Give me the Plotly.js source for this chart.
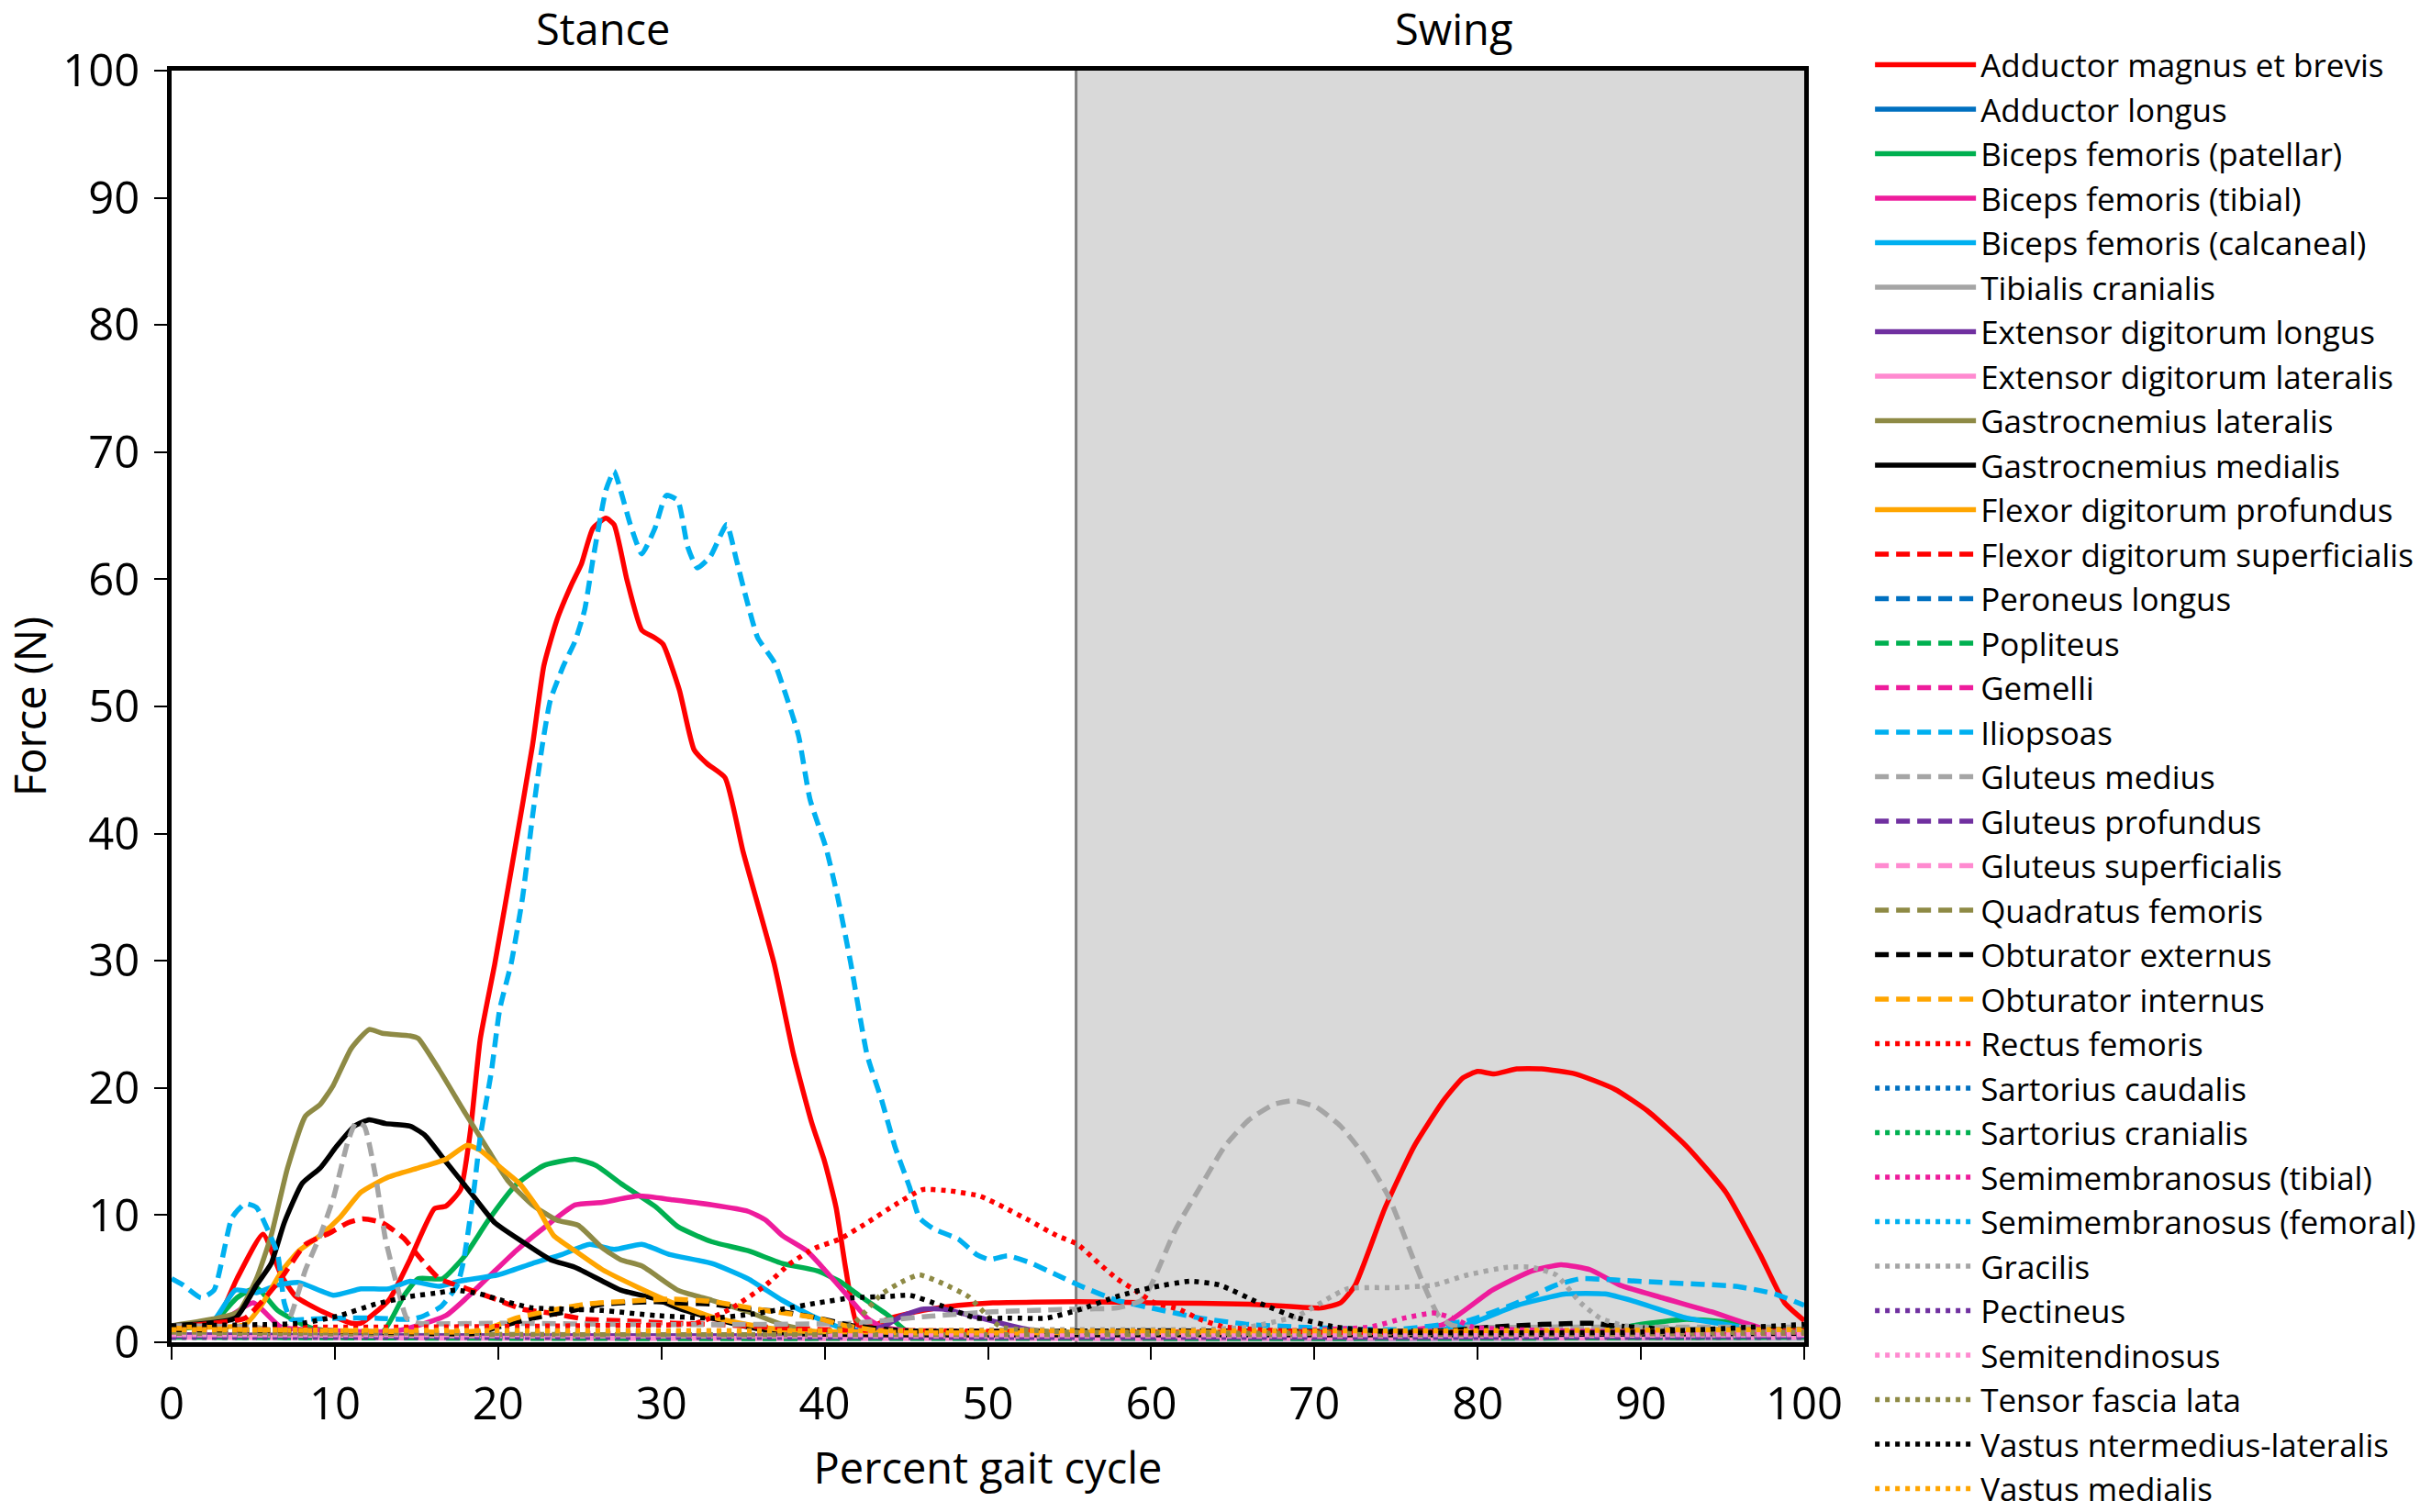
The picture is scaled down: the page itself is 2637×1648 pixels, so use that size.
<!DOCTYPE html>
<html>
<head>
<meta charset="utf-8">
<script src="https://cdn.plot.ly/plotly-3.0.1.min.js"></script>
<style>
  html, body { margin: 0; padding: 0; background: #fff; }
  #chart { width: 2637px; height: 1648px; }
</style>
</head>
<body>
<div id="chart"></div>
<script>
// values (percent gait cycle -> force in N)
baseX = [0, 25, 50, 75, 100]

adductorMagnusX = [0, 2.6, 4, 5.6, 6.7, 7.6, 9.1, 11, 11.6, 13.3, 14.6, 16.1, 16.8, 17.7, 18.3, 18.9, 19.8, 21.0, 22.1, 22.8, 23.6, 24.5, 25.1, 25.8, 26.6, 27.1, 27.9, 28.8, 29.6, 30.1, 31.1, 32.0, 32.8, 33.9, 35.0, 36.9, 38.1, 39.2, 40.0, 40.7, 41.3, 42.0, 43.0, 44, 46, 48.2, 50.3, 55.5, 60, 66, 70.4, 71.6, 72.5, 74.3, 76.1, 77.9, 79.1, 80, 81, 82.4, 83.9, 86, 88.4, 90.4, 92.8, 95.2, 97.3, 98.8, 100]
adductorMagnusY = [1.3, 1.4, 5, 8.5, 5.3, 3.6, 2.5, 1.5, 1.5, 3.3, 6.5, 10.5, 10.7, 12, 16.6, 23.8, 29.8, 38.6, 46.9, 53.2, 56.8, 59.6, 61.2, 64.0, 64.8, 64.3, 59.9, 56.0, 55.4, 54.9, 51.3, 46.6, 45.5, 44.4, 38.6, 29.8, 22.6, 17.3, 14.2, 10.6, 5.7, 1.4, 1.3, 1.9, 2.5, 2.9, 3.1, 3.2, 3.1, 3.0, 2.7, 3.1, 4.5, 10.5, 15.4, 19.0, 20.8, 21.3, 21.1, 21.5, 21.5, 21.1, 19.9, 18.2, 15.4, 11.8, 6.9, 3.1, 1.7]

adductorLongusY = [0.5, 0.4, 0.4, 0.3, 0.4]

bicepsPatellarX = [0, 2.5, 4, 5.2, 6.5, 8.6, 12.9, 14.2, 15.1, 16.6, 17.9, 19.4, 21.1, 22.8, 24.7, 26, 27.5, 29.7, 31, 33.1, 35.3, 37.4, 39.6, 40.9, 42.2, 43.9, 45, 47, 60, 80, 87, 89.9, 92.8, 95.8, 98, 100]
bicepsPatellarY = [1.0, 1.5, 3.5, 4.3, 2.5, 1.1, 0.8, 3.6, 5.0, 5.0, 6.7, 9.6, 12.4, 13.9, 14.4, 13.9, 12.5, 10.6, 9.1, 7.9, 7.2, 6.2, 5.6, 4.8, 3.6, 2.1, 0.9, 0.5, 0.5, 0.5, 0.7, 1.4, 1.8, 1.5, 0.8, 0.6]

bicepsTibialX = [0, 3, 5, 6.7, 10, 13.8, 16.8, 18.9, 21.1, 23.2, 24.7, 26.4, 28.6, 30.7, 33.1, 35.3, 36.4, 37.4, 38.9, 40, 41.3, 42.6, 43.5, 46, 60, 74, 77.9, 80.9, 83.3, 85.1, 86.9, 88.7, 91.3, 94.3, 96.4, 98, 100]
bicepsTibialY = [1.2, 1.6, 3.1, 1.2, 0.9, 0.9, 2.1, 4.5, 7.2, 9.4, 10.8, 11.0, 11.5, 11.2, 10.8, 10.3, 9.6, 8.4, 7.2, 5.7, 3.8, 1.9, 1.2, 0.8, 0.7, 0.7, 1.4, 4.1, 5.6, 6.1, 5.7, 4.5, 3.5, 2.4, 1.5, 0.9, 0.8]

bicepsCalcanealX = [0, 2.5, 3.9, 5.2, 6.5, 7.8, 9.9, 11.6, 13.3, 14.6, 16.4, 17.6, 20, 22.1, 23.9, 25.6, 27.1, 28.8, 30.5, 33.1, 35.3, 37.4, 39.2, 40.9, 43, 60, 77, 79.4, 82.4, 85.4, 87.8, 89.9, 92.8, 95.2, 97, 100]
bicepsCalcanealY = [1.2, 1.6, 4.1, 3.9, 4.5, 4.7, 3.7, 4.2, 4.2, 4.8, 4.4, 4.8, 5.3, 6.2, 6.9, 7.7, 7.3, 7.7, 6.9, 6.2, 5.0, 3.3, 2.1, 1.2, 0.8, 0.7, 0.8, 1.4, 2.9, 3.8, 3.8, 3.1, 1.9, 1.4, 1.0, 0.9]

tibialisCranialisY = [0.6, 0.5, 0.5, 0.5, 0.6]

extDigLongusX = [0, 10, 20, 30, 40, 43.5, 44.8, 46, 47.3, 49.3, 51.4, 52.5, 55, 70, 85, 100]
extDigLongusY = [0.6, 0.5, 0.5, 0.5, 0.6, 1.2, 2.1, 2.6, 2.6, 2.0, 1.3, 1.0, 0.7, 0.5, 0.5, 0.6]

extDigLateralisY = [0.4, 0.3, 0.3, 0.3, 0.4]

gastrocLatX = [0, 2.8, 4.1, 5.2, 6.1, 7.1, 8.2, 9.1, 9.9, 11, 12.1, 12.9, 14.6, 15.1, 16.4, 17.9, 19.4, 20.6, 22.1, 23.6, 24.9, 26.4, 27.5, 28.8, 31, 33.1, 35.3, 37.4, 40, 60, 80, 100]
gastrocLatY = [1.3, 1.9, 2.4, 5.0, 8.4, 13.7, 17.8, 18.7, 20.2, 23.1, 24.6, 24.3, 24.1, 23.9, 21.4, 18.2, 15.1, 12.7, 10.8, 9.6, 9.2, 7.4, 6.5, 6.0, 4.1, 3.3, 2.4, 1.4, 0.7, 0.6, 0.6, 0.7]

gastrocMedX = [0, 3.9, 5.2, 6.1, 6.9, 8.0, 9.1, 10.1, 11.2, 12.1, 13.1, 14.6, 15.5, 16.8, 18.3, 19.8, 21.5, 23.2, 24.7, 26.4, 27.5, 29.7, 31, 33.1, 35.3, 38, 60, 80, 100]
gastrocMedY = [1.3, 1.9, 4.5, 6.2, 9.4, 12.5, 13.7, 15.4, 17.0, 17.5, 17.2, 17.0, 16.3, 14.2, 11.8, 9.4, 7.9, 6.5, 5.9, 4.8, 4.1, 3.4, 2.7, 1.9, 1.2, 0.7, 0.6, 0.6, 0.7]

flexDigProfX = [0, 4.5, 5.6, 6.7, 7.8, 9.1, 10.3, 11.6, 13.3, 15.1, 16.8, 18.1, 18.9, 20, 21.3, 22.4, 23.4, 24.7, 26.4, 28.6, 30.7, 33.1, 35.3, 38, 60, 80, 100]
flexDigProfY = [1.2, 1.4, 3.1, 5.5, 7.2, 8.4, 9.8, 11.8, 13.0, 13.7, 14.4, 15.5, 15.1, 13.9, 12.5, 10.6, 8.4, 7.2, 5.7, 4.3, 3.1, 2.0, 1.4, 0.9, 0.8, 0.8, 0.9]

flexDigSupX = [0, 4.5, 5.6, 6.7, 8.2, 9.7, 10.8, 11.7, 12.9, 14.2, 15.3, 16.4, 17.9, 19.4, 21.5, 23.2, 25.4, 27.5, 30.7, 33.3, 40, 60, 80, 100]
flexDigSupY = [1.2, 1.9, 3.3, 5.0, 7.7, 8.6, 9.4, 9.7, 9.4, 8.2, 6.5, 5.0, 4.3, 3.6, 2.6, 2.3, 1.8, 1.7, 1.5, 1.4, 1.0, 0.8, 0.8, 0.9]

peroneusY = [0.5, 0.4, 0.4, 0.4, 0.5]
popliteusY = [0.4, 0.3, 0.3, 0.3, 0.4]
gemelliY = [0.6, 0.5, 0.5, 0.5, 0.6]

iliopsoasX = [0, 0.7, 1.8, 2.6, 3.7, 4.5, 5.2, 5.8, 6.5, 6.9, 7.3, 8.2, 10.3, 12.5, 14.6, 15.3, 16.5, 17.5, 17.9, 18.5, 18.9, 19.6, 20.1, 20.8, 21.5, 22.1, 22.7, 23.2, 24.0, 24.7, 25.3, 25.8, 26.6, 27.1, 27.5, 28.1, 28.8, 29.6, 30.3, 31.0, 31.6, 32.2, 33.0, 34.0, 34.6, 35.2, 35.9, 36.9, 37.6, 38.4, 39.1, 40.1, 40.8, 41.6, 42.6, 43.5, 44.3, 45.2, 45.8, 46.7, 48.2, 49.3, 50.1, 51.2, 52.5, 54.2, 55.9, 57.9, 60, 63, 66, 69, 75, 79.4, 82.4, 84.8, 86.3, 88.4, 91.3, 95.8, 98.2, 100]
iliopsoasY = [5.0, 4.5, 3.5, 4.1, 9.8, 10.9, 10.6, 9.1, 6.9, 3.1, 1.8, 1.8, 1.9, 1.9, 1.8, 2.0, 2.8, 4.5, 6.5, 11.8, 16.1, 21.4, 26.2, 29.8, 35.0, 41.3, 46.9, 50.5, 53.2, 55.1, 57.6, 61.5, 67.0, 68.5, 67.0, 64.3, 62.0, 64.0, 66.6, 66.2, 62.6, 60.9, 61.8, 64.3, 61.5, 58.5, 55.4, 53.5, 51.0, 47.7, 42.7, 38.8, 35.0, 29.8, 22.6, 19.0, 15.4, 12.2, 9.8, 8.9, 8.1, 6.9, 6.5, 6.8, 6.3, 5.3, 4.3, 3.3, 2.7, 1.9, 1.4, 1.2, 1.0, 1.7, 3.1, 4.5, 5.0, 4.9, 4.7, 4.4, 3.8, 2.9]

gluteusMediusX = [0, 5, 6.7, 7.3, 8.2, 9.1, 9.9, 10.8, 11.3, 11.8, 12.5, 13.1, 13.8, 14.4, 15.1, 20, 28.8, 35, 41.7, 46, 50.3, 55.3, 57.9, 59.4, 60, 61.5, 63, 64.5, 66, 67.5, 68.7, 70.1, 71.6, 73.1, 74.6, 75.8, 76.7, 77.6, 78.5, 85, 100]
gluteusMediusY = [1.3, 1.2, 0.9, 2.1, 5.7, 8.4, 11.3, 15.8, 17.3, 17.0, 13.0, 8.1, 4.5, 1.9, 1.5, 1.5, 1.4, 1.4, 1.5, 2.0, 2.4, 2.6, 2.7, 3.3, 4.5, 8.9, 12.2, 15.4, 17.5, 18.7, 19.0, 18.5, 17.0, 14.6, 11.3, 7.4, 4.5, 2.1, 1.3, 1.2, 1.2]

gluteusProfundusY = [0.5, 0.5, 0.4, 0.4, 0.5]
gluteusSuperficialisY = [0.6, 0.5, 0.5, 0.5, 0.6]
quadratusFemorisY = [0.7, 0.6, 0.6, 0.6, 0.7]

obturatorExtX = [0, 10, 18.5, 20, 22.1, 24.2, 26.4, 29.7, 31, 33.1, 35.3, 37.4, 39.6, 41.7, 45, 60, 78, 80.9, 83.9, 86.9, 88.4, 92, 100]
obturatorExtY = [1.0, 0.9, 0.7, 1.2, 1.9, 2.4, 3.0, 3.2, 3.1, 3.0, 2.6, 2.4, 1.9, 1.3, 0.9, 0.9, 0.9, 1.2, 1.4, 1.5, 1.3, 1.0, 1.0]

obturatorIntX = [0, 10, 18.9, 21.1, 23.2, 25.4, 27.5, 30.7, 33.1, 36.4, 39.6, 40.9, 44, 60, 80, 100]
obturatorIntY = [1.1, 0.9, 0.9, 1.9, 2.5, 3.0, 3.2, 3.4, 3.2, 2.5, 1.9, 1.4, 0.8, 0.8, 0.8, 0.9]

rectusFemorisX = [0, 15, 25, 32.1, 34.2, 36.4, 37.9, 39.4, 40.9, 42.6, 44.3, 46, 47.7, 49.5, 51, 52.5, 54.2, 55.5, 56.8, 57.9, 59, 60.2, 61.7, 63, 64.5, 70, 85, 100]
rectusFemorisY = [1.2, 1.2, 1.3, 1.5, 2.6, 4.5, 6.2, 7.4, 8.1, 9.4, 10.8, 12.0, 11.9, 11.5, 10.6, 9.6, 8.4, 7.7, 6.2, 5.0, 4.1, 3.1, 2.6, 1.8, 1.2, 0.8, 0.8, 0.9]

sartoriusCaudY = [0.5, 0.5, 0.5, 0.5, 0.5]
sartoriusCranY = [0.4, 0.4, 0.4, 0.4, 0.4]

semimembTibX = [0, 30, 60, 73.4, 75.5, 77.3, 78.5, 79.7, 90, 100]
semimembTibY = [0.8, 0.7, 0.7, 1.2, 1.9, 2.3, 1.9, 1.2, 0.8, 0.8]

semimembFemY = [0.6, 0.5, 0.5, 0.5, 0.6]

gracilisX = [0, 20, 40, 55, 63, 66, 69, 72, 75, 77.3, 79.4, 81.8, 83.3, 84.8, 86.3, 87.5, 89, 95, 100]
gracilisY = [0.9, 0.9, 0.9, 1.0, 1.0, 1.2, 2.1, 4.2, 4.3, 4.5, 5.3, 5.9, 5.9, 5.3, 3.1, 1.9, 1.3, 1.0, 1.0]

pectineusY = [0.4, 0.4, 0.4, 0.4, 0.4]
semitendinosusY = [0.6, 0.6, 0.6, 0.6, 0.6]

tensorFasciaX = [0, 20, 40, 41.7, 43.5, 44.8, 45.8, 47.1, 48.8, 50.1, 50.8, 55, 80, 100]
tensorFasciaY = [0.8, 0.7, 0.8, 1.4, 3.8, 4.8, 5.3, 4.7, 3.6, 1.9, 1.2, 0.8, 0.7, 0.8]

vastusIntLatX = [0, 6.1, 8, 10.3, 12.5, 14.6, 16.4, 17.4, 18.9, 20.2, 22.1, 24.2, 26.4, 29.7, 33.1, 35.5, 37.4, 39.6, 41.7, 43.9, 45.2, 47.1, 49.3, 51.4, 53.6, 55.7, 57.9, 60, 62.4, 64.2, 66.6, 69, 71.3, 75, 90, 100]
vastusIntLatY = [1.3, 1.4, 1.5, 2.1, 3.0, 3.6, 3.9, 4.1, 3.8, 3.3, 2.7, 2.6, 2.5, 2.1, 1.9, 2.2, 2.6, 3.1, 3.5, 3.6, 3.7, 2.9, 1.9, 1.9, 1.9, 2.6, 3.6, 4.3, 4.8, 4.5, 3.1, 1.9, 1.2, 0.8, 0.8, 1.4]

vastusMedialisY = [1.0, 0.9, 0.9, 0.9, 1.0]

// gait phases
stanceEnd = 55.4
phaseLabels = ['Stance', 'Swing']
phaseLabelX = [26.4, 78.5]

// colour set used by each of the three line styles
RED = '#FF0000'
BLUE = '#0070C0'
GREEN = '#00B050'
MAGENTA = '#EE1C9C'
LIGHTBLUE = '#00B0F0'
GRAY = '#A5A5A5'
PURPLE = '#7030A0'
PINK = '#FF8AD0'
OLIVE = '#8E8A45'
BLACK = '#000000'
ORANGE = '#FFA500'

SOLID = 'solid'
DASH = '15px,8px'
DOT = '5px,6px'

series = [
    ['Adductor magnus et brevis', adductorMagnusX, adductorMagnusY, RED, SOLID],
    ['Adductor longus', baseX, adductorLongusY, BLUE, SOLID],
    ['Biceps femoris (patellar)', bicepsPatellarX, bicepsPatellarY, GREEN, SOLID],
    ['Biceps femoris (tibial)', bicepsTibialX, bicepsTibialY, MAGENTA, SOLID],
    ['Biceps femoris (calcaneal)', bicepsCalcanealX, bicepsCalcanealY, LIGHTBLUE, SOLID],
    ['Tibialis cranialis', baseX, tibialisCranialisY, GRAY, SOLID],
    ['Extensor digitorum longus', extDigLongusX, extDigLongusY, PURPLE, SOLID],
    ['Extensor digitorum lateralis', baseX, extDigLateralisY, PINK, SOLID],
    ['Gastrocnemius lateralis', gastrocLatX, gastrocLatY, OLIVE, SOLID],
    ['Gastrocnemius medialis', gastrocMedX, gastrocMedY, BLACK, SOLID],
    ['Flexor digitorum profundus', flexDigProfX, flexDigProfY, ORANGE, SOLID],
    ['Flexor digitorum superficialis', flexDigSupX, flexDigSupY, RED, DASH],
    ['Peroneus longus', baseX, peroneusY, BLUE, DASH],
    ['Popliteus', baseX, popliteusY, GREEN, DASH],
    ['Gemelli', baseX, gemelliY, MAGENTA, DASH],
    ['Iliopsoas', iliopsoasX, iliopsoasY, LIGHTBLUE, DASH],
    ['Gluteus medius', gluteusMediusX, gluteusMediusY, GRAY, DASH],
    ['Gluteus profundus', baseX, gluteusProfundusY, PURPLE, DASH],
    ['Gluteus superficialis', baseX, gluteusSuperficialisY, PINK, DASH],
    ['Quadratus femoris', baseX, quadratusFemorisY, OLIVE, DASH],
    ['Obturator externus', obturatorExtX, obturatorExtY, BLACK, DASH],
    ['Obturator internus', obturatorIntX, obturatorIntY, ORANGE, DASH],
    ['Rectus femoris', rectusFemorisX, rectusFemorisY, RED, DOT],
    ['Sartorius caudalis', baseX, sartoriusCaudY, BLUE, DOT],
    ['Sartorius cranialis', baseX, sartoriusCranY, GREEN, DOT],
    ['Semimembranosus (tibial)', semimembTibX, semimembTibY, MAGENTA, DOT],
    ['Semimembranosus (femoral)', baseX, semimembFemY, LIGHTBLUE, DOT],
    ['Gracilis', gracilisX, gracilisY, GRAY, DOT],
    ['Pectineus', baseX, pectineusY, PURPLE, DOT],
    ['Semitendinosus', baseX, semitendinosusY, PINK, DOT],
    ['Tensor fascia lata', tensorFasciaX, tensorFasciaY, OLIVE, DOT],
    ['Vastus ntermedius-lateralis', vastusIntLatX, vastusIntLatY, BLACK, DOT],
    ['Vastus medialis', baseX, vastusMedialisY, ORANGE, DOT]
]

FONT = '"Open Sans", sans-serif'

data = []
for (i = 0; i < series.length; i++) {
    s = series[i]
    data.push({
        x: s[1],
        y: s[2],
        name: s[0],
        type: 'scatter',
        mode: 'lines',
        line: {color: s[3], width: 5.5, dash: s[4], shape: 'spline', smoothing: 0.5},
        hoverinfo: 'x+y+name'
    })
}

var layout = {
    width: 2637,
    height: 1648,
    margin: {l: 187, r: 671, t: 77, b: 185},
    paper_bgcolor: '#fff',
    plot_bgcolor: '#fff',
    font: {family: FONT, color: '#000', size: 49},
    showlegend: true,
    legend: {
        xref: 'container', yref: 'container',
        x: 0.7729, y: 0.975, xanchor: 'left', yanchor: 'top',
        font: {family: FONT, size: 35, color: '#000'},
        itemwidth: 110,
        maxheight: 1640,
        bgcolor: 'rgba(0,0,0,0)',
        borderwidth: 0,
        tracegroupgap: 0
    },
    xaxis: {
        range: [0, 100], dtick: 10, tick0: 0,
        showgrid: false, zeroline: false,
        showline: true, mirror: true, linecolor: '#000', linewidth: 5,
        ticks: 'outside', ticklen: 14, tickwidth: 2, tickcolor: '#000',
        ticklabelstandoff: 6,
        tickfont: {family: FONT, size: 49, color: '#000'},
        title: {text: 'Percent gait cycle', font: {family: FONT, size: 47, color: '#000'}, standoff: 26}
    },
    yaxis: {
        range: [0, 100], dtick: 10, tick0: 0,
        showgrid: false, zeroline: false,
        showline: true, mirror: true, linecolor: '#000', linewidth: 5,
        ticks: 'outside', ticklen: 14, tickwidth: 2, tickcolor: '#000',
        ticklabelstandoff: 6,
        tickfont: {family: FONT, size: 49, color: '#000'},
        title: {text: 'Force (N)', font: {family: FONT, size: 47, color: '#000'}, standoff: 43}
    },
    shapes: [
        {type: 'rect', xref: 'x', yref: 'y', x0: stanceEnd, x1: 100, y0: 0, y1: 100,
         fillcolor: '#D9D9D9', line: {width: 0}, layer: 'below'},
        {type: 'line', xref: 'x', yref: 'y', x0: stanceEnd, x1: stanceEnd, y0: 0, y1: 100,
         line: {color: '#7F7F7F', width: 3}, layer: 'below'}
    ],
    annotations: []
}

for (i = 0; i < phaseLabels.length; i++) {
    layout.annotations.push({
        text: phaseLabels[i], x: phaseLabelX[i], xref: 'x',
        y: 1.0332, yref: 'paper', yanchor: 'middle', xanchor: 'center',
        showarrow: false, font: {family: FONT, size: 47, color: '#000'}
    })
}

Plotly.newPlot('chart', data, layout, {displayModeBar: false, staticPlot: true})
</script>
</body>
</html>
